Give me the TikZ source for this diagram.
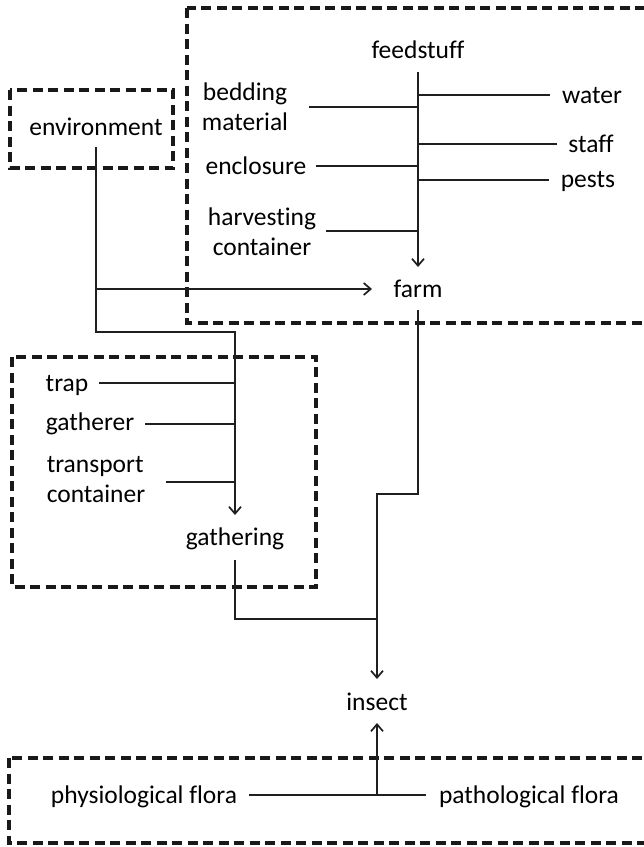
\documentclass[tikz,border=0pt]{standalone}
\usepackage{fontspec}
\setmainfont{Carlito}[Ligatures=NoCommon]
\usetikzlibrary{arrows.meta}
\begin{document}
\begin{tikzpicture}[x=1pt,y=-1pt,
  lbl/.style={inner sep=0pt,outer sep=0pt,font=\fontsize{25.5}{30}\selectfont,text=black},
  lbl2/.style={lbl,align=center},
  grp/.style={draw=black!90,line width=3.3pt,dash pattern=on 10pt off 5.5pt},
  wire/.style={draw=black!88,line width=1.7pt},
  arr/.style={wire,-{Straight Barb[length=7pt,width=12pt,line width=1.7pt]}}]
\useasboundingbox (0,0) rectangle (644,847);
\clip (0,0) rectangle (644,847);

% group frames
\draw[grp] (187,8) rectangle (690,323);
\draw[grp] (10,90) rectangle (173,168);
\draw[grp] (12,357) rectangle (316,587);
\draw[grp] (9,758) rectangle (690,843);

% labels
\node[lbl] (env) at (96,127) {environment};
\node[lbl] (feed) at (418,50) {feedstuff};
\node[lbl] (farm) at (418,289) {farm};
\node[lbl2] (bed) at (245,107) {bedding\\material};
\node[lbl] (encl) at (256,166) {enclosure};
\node[lbl2] (harv) at (262,232) {harvesting\\container};
\node[lbl] (water) at (592,96) {water};
\node[lbl] (staff) at (591,144) {staff};
\node[lbl] (pests) at (588,181) {pests};
\node[lbl] (trap) at (67,385) {trap};
\node[lbl] (gatherer) at (90,424) {gatherer};
\node[lbl,align=left] (transp) at (96,480) {transport\\container};
\node[lbl] (gathering) at (235,539) {gathering};
\node[lbl] (insect) at (377,702) {insect};
\node[lbl] (phys) at (144,797) {physiological flora};
\node[lbl] (path) at (529,797) {pathological flora};

% junction points
\coordinate (gtop) at (235,332);
\coordinate (fj) at (377,494);
\coordinate (ij) at (377,619);

% farm inputs
\draw[arr] ([yshift=-22]feed.center) -- ([yshift=22]farm.center);
\draw[wire] ([xshift=21]bed.east) coordinate (b0) -- (b0 -| feed);
\draw[wire] ([xshift=10]encl.east) coordinate (e0) -- (e0 -| feed);
\draw[wire] ([xshift=10,yshift=1]harv.east) coordinate (h0) -- (h0 -| feed);
\draw[wire] ([xshift=-12,yshift=1]water.west) coordinate (w0) -- (w0 -| feed);
\draw[wire] ([xshift=-11]staff.west) coordinate (s0) -- (s0 -| feed);
\draw[wire] ([xshift=-12,yshift=1]pests.west) coordinate (p0) -- (p0 -| feed);

% environment to farm and gathering
\draw[arr] ([yshift=-20]env.center) |- (gtop) -- ([yshift=24]gathering.center);
\draw[arr] (env |- farm) -- ([xshift=-46]farm.center);

% gathering inputs
\draw[wire] ([xshift=11,yshift=2]trap.east) coordinate (t0) -- (t0 -| gathering);
\draw[wire] ([xshift=11]gatherer.east) coordinate (g0) -- (g0 -| gathering);
\draw[wire] ([xshift=21,yshift=-2]transp.east) coordinate (c0) -- (c0 -| gathering);

% to insect
\draw[arr] ([yshift=-21]farm.center) |- (fj) -- ([yshift=23]insect.center);
\draw[wire] ([yshift=-21]gathering.center) |- (ij);

% flora
\draw[wire] ([xshift=12,yshift=2]phys.east) coordinate (f0) -- ([xshift=-13,yshift=2]path.west);
\draw[arr] (f0 -| insect) -- ([yshift=-21]insect.center);
\end{tikzpicture}
\end{document}
